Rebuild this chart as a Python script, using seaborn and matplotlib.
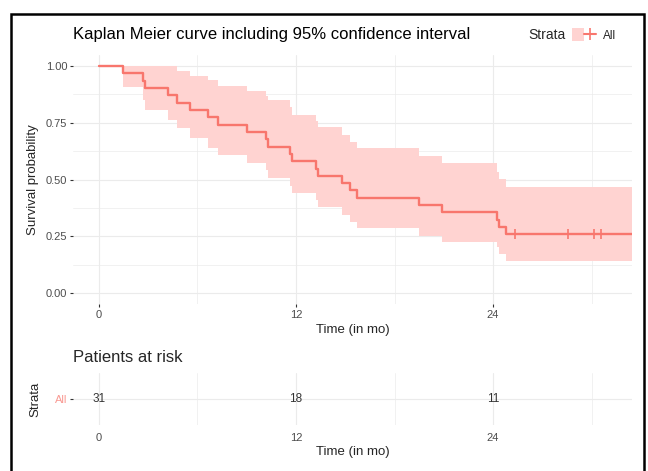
import pandas as pd
import matplotlib.pyplot as plt
import seaborn as sns
from matplotlib.patches import Patch, Rectangle
from matplotlib.lines import Line2D
from matplotlib.legend_handler import HandlerTuple

# Kaplan-Meier steps (time in months)
event_times = [0, 1.48, 2.70, 2.80, 4.22, 4.77, 5.54, 6.66, 7.23, 9.00, 10.17, 10.31,
               11.63, 11.74, 13.22, 13.32, 14.78, 15.29, 15.73, 19.51, 20.87, 24.22, 24.38, 24.79]
surv = [1.0, 0.968, 0.935, 0.903, 0.871, 0.839, 0.806, 0.774, 0.742, 0.710, 0.677, 0.645,
        0.613, 0.581, 0.548, 0.516, 0.484, 0.452, 0.419, 0.387, 0.355, 0.323, 0.290, 0.258]
upper = [1.0, 1.0, 1.0, 1.0, 1.0, 0.978, 0.957, 0.938, 0.913, 0.890, 0.870, 0.850,
         0.820, 0.784, 0.760, 0.733, 0.696, 0.667, 0.637, 0.604, 0.571, 0.534, 0.501, 0.468]
lower = [1.0, 0.909, 0.850, 0.806, 0.762, 0.725, 0.681, 0.637, 0.608, 0.571, 0.540, 0.505,
         0.470, 0.439, 0.410, 0.380, 0.344, 0.314, 0.285, 0.251, 0.226, 0.204, 0.172, 0.142]
last_time = 32.44
censor_times = [25.34, 28.58, 30.16, 30.55]

risk_times = [0, 12, 24]
risk_counts = [31, 18, 11]
x_ticks = [0, 12, 24]
y_ticks = [0.0, 0.25, 0.5, 0.75, 1.0]

red = "#F8766D"
band = "#FFD3D1"
grid = "#EBEBEB"

sns.set_theme(style="white")
plt.rcParams["font.family"] = ["Liberation Sans", "DejaVu Sans"]

df = pd.DataFrame({
    "time": event_times + [last_time],
    "surv": surv + [surv[-1]],
    "upper": upper + [upper[-1]],
    "lower": lower + [lower[-1]],
})

fig = plt.figure(figsize=(6.48, 4.71), dpi=100)
ax = fig.add_axes([73 / 648, 1 - 304.4 / 471, (632 - 73) / 648, (304.4 - 54.7) / 471])
ax2 = fig.add_axes([73 / 648, 1 - 425 / 471, (632 - 73) / 648, (425 - 373) / 471])


def style(a):
    for s in a.spines.values():
        s.set_visible(False)
    a.set_xlim(-1.58, 32.46)
    a.set_xticks(x_ticks)
    a.set_xticks([6, 18, 30], minor=True)
    a.grid(True, which="major", color=grid, linewidth=0.8)
    a.grid(True, which="minor", color=grid, linewidth=0.5)
    a.set_axisbelow(True)
    a.tick_params(axis="both", which="major", labelsize=8, labelcolor="#4D4D4D",
                  color="#333333", length=2.5, width=0.8, pad=1.5,
                  bottom=True, left=True)
    a.tick_params(which="minor", length=0)


# main KM plot
style(ax)
ax.fill_between(df["time"], df["lower"], df["upper"], step="post",
                color=band, linewidth=0)
sns.lineplot(data=df, x="time", y="surv", drawstyle="steps-post", estimator=None,
             color=red, linewidth=1.7, ax=ax)
sns.scatterplot(x=censor_times, y=[surv[-1]] * len(censor_times), marker="|",
                s=45, color=red, linewidth=1.2, ax=ax, zorder=3)
ax.set_ylim(-0.05, 1.05)
ax.set_yticks(y_ticks)
ax.set_yticks([0.125, 0.375, 0.625, 0.875], minor=True)
ax.set_yticklabels(["0.00", "0.25", "0.50", "0.75", "1.00"])
ax.set_xlabel("Time (in mo)", fontsize=9.5, labelpad=3)
ax.set_ylabel("Survival probability", fontsize=9.5, labelpad=5)

fig.text(73 / 648, 1 - 35 / 471, "Kaplan Meier curve including 95% confidence interval",
         fontsize=12, va="center", ha="left", color="black")

# legend
fig.text(528 / 648, 1 - 35 / 471, "Strata", fontsize=10, va="center", ha="left")
key = (Patch(facecolor=band, edgecolor="none"),
       Line2D([], [], color=red, linewidth=1.5, marker="|", markersize=8, markeredgewidth=1.2))
fig.legend(handles=[key], labels=["All"], loc="center left",
           bbox_to_anchor=(572 / 648, 1 - 35 / 471), frameon=False, fontsize=8.5,
           handler_map={tuple: HandlerTuple(ndivide=None)}, handlelength=2.0,
           handleheight=1.3, handletextpad=0.6, borderpad=0, borderaxespad=0)

# risk table
style(ax2)
ax2.set_ylim(0, 1)
ax2.set_yticks([0.5])
ax2.set_yticklabels(["All"])
ax2.get_yticklabels()[0].set_color("#F99A93")
ax2.tick_params(axis="x", length=0, pad=6)
for t, n in zip(risk_times, risk_counts):
    ax2.text(t, 0.5, str(n), ha="center", va="center", fontsize=8.5, color="#333333")
ax2.set_xlabel("Time (in mo)", fontsize=9.5, labelpad=2)
ax2.set_ylabel("Strata", fontsize=9.5, labelpad=10)
fig.text(73 / 648, 1 - 358 / 471, "Patients at risk", fontsize=12, va="center", ha="left")

# outer frame
fig.patches.append(Rectangle((10.5 / 648, -0.02), (644 - 10.5) / 648, 1 - 14 / 471 + 0.02,
                             transform=fig.transFigure, fill=False, edgecolor="black",
                             linewidth=1.8))

fig.savefig("out.png", dpi=100)
